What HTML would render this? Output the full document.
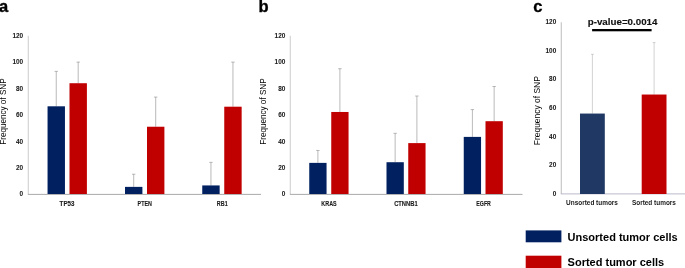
<!DOCTYPE html><html><head><meta charset="utf-8"><style>html,body{margin:0;padding:0;background:#fff;overflow:hidden;}svg{display:block;will-change:transform;}text{font-family:"Liberation Sans",sans-serif;}</style></head><body>
<svg width="685" height="268" viewBox="0 0 685 268">
<g>
<line x1="28.25" y1="35.75" x2="28.25" y2="194" stroke="#BFBFBF" stroke-width="0.8"/>
<line x1="27.85" y1="194.4" x2="261" y2="194.4" stroke="#A0A0A0" stroke-width="0.9"/>
<text transform="translate(23.2,196.35) scale(0.9,1)" font-size="7.2" font-weight="bold" text-anchor="end" fill="#1a1a1a" stroke="#1a1a1a" stroke-width="0.05">0</text>
<text transform="translate(23.2,169.97) scale(0.9,1)" font-size="7.2" font-weight="bold" text-anchor="end" fill="#1a1a1a" stroke="#1a1a1a" stroke-width="0.05">20</text>
<text transform="translate(23.2,143.60) scale(0.9,1)" font-size="7.2" font-weight="bold" text-anchor="end" fill="#1a1a1a" stroke="#1a1a1a" stroke-width="0.05">40</text>
<text transform="translate(23.2,117.22) scale(0.9,1)" font-size="7.2" font-weight="bold" text-anchor="end" fill="#1a1a1a" stroke="#1a1a1a" stroke-width="0.05">60</text>
<text transform="translate(23.2,90.85) scale(0.9,1)" font-size="7.2" font-weight="bold" text-anchor="end" fill="#1a1a1a" stroke="#1a1a1a" stroke-width="0.05">80</text>
<text transform="translate(23.2,64.47) scale(0.9,1)" font-size="7.2" font-weight="bold" text-anchor="end" fill="#1a1a1a" stroke="#1a1a1a" stroke-width="0.05">100</text>
<text transform="translate(23.2,38.10) scale(0.9,1)" font-size="7.2" font-weight="bold" text-anchor="end" fill="#1a1a1a" stroke="#1a1a1a" stroke-width="0.05">120</text>
<text transform="translate(6.1,111.60) rotate(-90)" font-size="8.15" text-anchor="middle" fill="#000">Frequency of SNP</text>
<line x1="56.25" y1="71.36" x2="56.25" y2="106.30" stroke="#8C8C8C" stroke-width="0.6"/>
<line x1="54.55" y1="71.36" x2="57.95" y2="71.36" stroke="#8C8C8C" stroke-width="0.6"/>
<rect x="47.55" y="106.30" width="17.4" height="87.70" fill="#002060"/>
<line x1="78.20" y1="62.12" x2="78.20" y2="83.22" stroke="#8C8C8C" stroke-width="0.6"/>
<line x1="76.50" y1="62.12" x2="79.90" y2="62.12" stroke="#8C8C8C" stroke-width="0.6"/>
<rect x="69.5" y="83.22" width="17.4" height="110.78" fill="#C00000"/>
<line x1="133.70" y1="174.22" x2="133.70" y2="186.88" stroke="#8C8C8C" stroke-width="0.6"/>
<line x1="132.00" y1="174.22" x2="135.40" y2="174.22" stroke="#8C8C8C" stroke-width="0.6"/>
<rect x="125" y="186.88" width="17.4" height="7.12" fill="#002060"/>
<line x1="155.70" y1="97.07" x2="155.70" y2="126.74" stroke="#8C8C8C" stroke-width="0.6"/>
<line x1="154.00" y1="97.07" x2="157.40" y2="97.07" stroke="#8C8C8C" stroke-width="0.6"/>
<rect x="147" y="126.74" width="17.4" height="67.26" fill="#C00000"/>
<line x1="210.95" y1="162.35" x2="210.95" y2="185.43" stroke="#8C8C8C" stroke-width="0.6"/>
<line x1="209.25" y1="162.35" x2="212.65" y2="162.35" stroke="#8C8C8C" stroke-width="0.6"/>
<rect x="202.25" y="185.43" width="17.4" height="8.57" fill="#002060"/>
<line x1="232.95" y1="62.12" x2="232.95" y2="106.70" stroke="#8C8C8C" stroke-width="0.6"/>
<line x1="231.25" y1="62.12" x2="234.65" y2="62.12" stroke="#8C8C8C" stroke-width="0.6"/>
<rect x="224.25" y="106.70" width="17.4" height="87.30" fill="#C00000"/>
<text x="59.60" y="205.7" textLength="14.8" lengthAdjust="spacingAndGlyphs" font-size="7.4" font-weight="bold" fill="#1a1a1a" stroke="#1a1a1a" stroke-width="0.12">TP53</text>
<text x="137.60" y="205.7" textLength="14.3" lengthAdjust="spacingAndGlyphs" font-size="7.4" font-weight="bold" fill="#1a1a1a" stroke="#1a1a1a" stroke-width="0.12">PTEN</text>
<text x="216.85" y="205.7" textLength="10.8" lengthAdjust="spacingAndGlyphs" font-size="7.4" font-weight="bold" fill="#1a1a1a" stroke="#1a1a1a" stroke-width="0.12">RB1</text>
<line x1="290.25" y1="35.75" x2="290.25" y2="194" stroke="#BFBFBF" stroke-width="0.8"/>
<line x1="289.85" y1="194.4" x2="522.5" y2="194.4" stroke="#A0A0A0" stroke-width="0.9"/>
<text transform="translate(285.4,196.35) scale(0.9,1)" font-size="7.2" font-weight="bold" text-anchor="end" fill="#1a1a1a" stroke="#1a1a1a" stroke-width="0.05">0</text>
<text transform="translate(285.4,169.97) scale(0.9,1)" font-size="7.2" font-weight="bold" text-anchor="end" fill="#1a1a1a" stroke="#1a1a1a" stroke-width="0.05">20</text>
<text transform="translate(285.4,143.60) scale(0.9,1)" font-size="7.2" font-weight="bold" text-anchor="end" fill="#1a1a1a" stroke="#1a1a1a" stroke-width="0.05">40</text>
<text transform="translate(285.4,117.22) scale(0.9,1)" font-size="7.2" font-weight="bold" text-anchor="end" fill="#1a1a1a" stroke="#1a1a1a" stroke-width="0.05">60</text>
<text transform="translate(285.4,90.85) scale(0.9,1)" font-size="7.2" font-weight="bold" text-anchor="end" fill="#1a1a1a" stroke="#1a1a1a" stroke-width="0.05">80</text>
<text transform="translate(285.4,64.47) scale(0.9,1)" font-size="7.2" font-weight="bold" text-anchor="end" fill="#1a1a1a" stroke="#1a1a1a" stroke-width="0.05">100</text>
<text transform="translate(285.4,38.10) scale(0.9,1)" font-size="7.2" font-weight="bold" text-anchor="end" fill="#1a1a1a" stroke="#1a1a1a" stroke-width="0.05">120</text>
<text transform="translate(266.2,111.60) rotate(-90)" font-size="8.15" text-anchor="middle" fill="#000">Frequency of SNP</text>
<line x1="317.90" y1="150.48" x2="317.90" y2="162.88" stroke="#8C8C8C" stroke-width="0.6"/>
<line x1="316.20" y1="150.48" x2="319.60" y2="150.48" stroke="#8C8C8C" stroke-width="0.6"/>
<rect x="309.25" y="162.88" width="17.3" height="31.12" fill="#002060"/>
<line x1="339.90" y1="68.72" x2="339.90" y2="111.97" stroke="#8C8C8C" stroke-width="0.6"/>
<line x1="338.20" y1="68.72" x2="341.60" y2="68.72" stroke="#8C8C8C" stroke-width="0.6"/>
<rect x="331.25" y="111.97" width="17.3" height="82.03" fill="#C00000"/>
<line x1="395.15" y1="133.34" x2="395.15" y2="162.22" stroke="#8C8C8C" stroke-width="0.6"/>
<line x1="393.45" y1="133.34" x2="396.85" y2="133.34" stroke="#8C8C8C" stroke-width="0.6"/>
<rect x="386.5" y="162.22" width="17.3" height="31.78" fill="#002060"/>
<line x1="416.90" y1="96.02" x2="416.90" y2="143.10" stroke="#8C8C8C" stroke-width="0.6"/>
<line x1="415.20" y1="96.02" x2="418.60" y2="96.02" stroke="#8C8C8C" stroke-width="0.6"/>
<rect x="408.25" y="143.10" width="17.3" height="50.90" fill="#C00000"/>
<line x1="472.40" y1="109.60" x2="472.40" y2="136.90" stroke="#8C8C8C" stroke-width="0.6"/>
<line x1="470.70" y1="109.60" x2="474.10" y2="109.60" stroke="#8C8C8C" stroke-width="0.6"/>
<rect x="463.75" y="136.90" width="17.3" height="57.10" fill="#002060"/>
<line x1="494.15" y1="86.52" x2="494.15" y2="121.20" stroke="#8C8C8C" stroke-width="0.6"/>
<line x1="492.45" y1="86.52" x2="495.85" y2="86.52" stroke="#8C8C8C" stroke-width="0.6"/>
<rect x="485.5" y="121.20" width="17.3" height="72.80" fill="#C00000"/>
<text x="321.35" y="205.7" textLength="15.3" lengthAdjust="spacingAndGlyphs" font-size="7.4" font-weight="bold" fill="#1a1a1a" stroke="#1a1a1a" stroke-width="0.12">KRAS</text>
<text x="394.15" y="205.7" textLength="23.5" lengthAdjust="spacingAndGlyphs" font-size="7.4" font-weight="bold" fill="#1a1a1a" stroke="#1a1a1a" stroke-width="0.12">CTNNB1</text>
<text x="476.35" y="205.7" textLength="14.5" lengthAdjust="spacingAndGlyphs" font-size="7.4" font-weight="bold" fill="#1a1a1a" stroke="#1a1a1a" stroke-width="0.12">EGFR</text>
<line x1="561.25" y1="22.25" x2="561.25" y2="194" stroke="#ABABAB" stroke-width="0.8"/>
<line x1="560.85" y1="193.9" x2="685" y2="193.9" stroke="#B2B2C4" stroke-width="0.9"/>
<text transform="translate(556.2,195.90) scale(1.0,1)" font-size="6.4" font-weight="bold" text-anchor="end" fill="#1a1a1a" stroke="#1a1a1a" stroke-width="0.05">0</text>
<text transform="translate(556.2,167.28) scale(1.0,1)" font-size="6.4" font-weight="bold" text-anchor="end" fill="#1a1a1a" stroke="#1a1a1a" stroke-width="0.05">20</text>
<text transform="translate(556.2,138.65) scale(1.0,1)" font-size="6.4" font-weight="bold" text-anchor="end" fill="#1a1a1a" stroke="#1a1a1a" stroke-width="0.05">40</text>
<text transform="translate(556.2,110.03) scale(1.0,1)" font-size="6.4" font-weight="bold" text-anchor="end" fill="#1a1a1a" stroke="#1a1a1a" stroke-width="0.05">60</text>
<text transform="translate(556.2,81.40) scale(1.0,1)" font-size="6.4" font-weight="bold" text-anchor="end" fill="#1a1a1a" stroke="#1a1a1a" stroke-width="0.05">80</text>
<text transform="translate(556.2,52.77) scale(1.0,1)" font-size="6.4" font-weight="bold" text-anchor="end" fill="#1a1a1a" stroke="#1a1a1a" stroke-width="0.05">100</text>
<text transform="translate(556.2,24.15) scale(1.0,1)" font-size="6.4" font-weight="bold" text-anchor="end" fill="#1a1a1a" stroke="#1a1a1a" stroke-width="0.05">120</text>
<text transform="translate(540.0,110.70) rotate(-90)" font-size="8.45" text-anchor="middle" fill="#000">Frequency of SNP</text>
<line x1="592.40" y1="54.31" x2="592.40" y2="113.56" stroke="#B4B4B4" stroke-width="0.6"/>
<line x1="591.00" y1="54.31" x2="593.80" y2="54.31" stroke="#B4B4B4" stroke-width="0.6"/>
<rect x="580.0" y="113.56" width="24.8" height="80.44" fill="#1F3864"/>
<line x1="654.10" y1="42.57" x2="654.10" y2="94.53" stroke="#B4B4B4" stroke-width="0.6"/>
<line x1="652.70" y1="42.57" x2="655.50" y2="42.57" stroke="#B4B4B4" stroke-width="0.6"/>
<rect x="641.7" y="94.53" width="24.8" height="99.47" fill="#C00000"/>
<text transform="translate(592,205.4) scale(1,1)" font-size="6.45" font-weight="bold" text-anchor="middle" fill="#1a1a1a">Unsorted tumors</text>
<text transform="translate(653.9,205.4) scale(1,1)" font-size="6.45" font-weight="bold" text-anchor="middle" fill="#1a1a1a">Sorted tumors</text>
<text x="-0.9" y="12.4" font-size="16.5" stroke="#000" stroke-width="0.35" font-weight="bold" fill="#000">a</text>
<text x="258.6" y="12.2" font-size="16.5" stroke="#000" stroke-width="0.35" font-weight="bold" fill="#000">b</text>
<text x="533.2" y="12.2" font-size="16.6" stroke="#000" stroke-width="0.3" font-weight="bold" fill="#000">c</text>
<text x="587.7" y="25" font-size="9.78" font-weight="bold" fill="#111" stroke="#111" stroke-width="0.15">p-value=0.0014</text>
<rect x="592.1" y="29" width="59.5" height="2.3" fill="#000"/>
<rect x="525.7" y="230.4" width="35.7" height="11.9" fill="#002060"/>
<rect x="525.7" y="255.7" width="35.7" height="12.5" fill="#C00000"/>
<text x="567.6" y="240.8" font-size="11" font-weight="bold" fill="#000">Unsorted tumor cells</text>
<text x="567.6" y="265.7" font-size="11" font-weight="bold" fill="#000">Sorted tumor cells</text>
</g></svg></body></html>
